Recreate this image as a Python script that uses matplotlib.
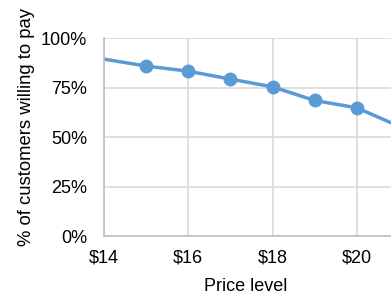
import matplotlib.pyplot as plt
import numpy as np

plt.rcParams['font.family'] = ['Liberation Sans', 'DejaVu Sans']

# price points and share of customers willing to pay
prices = [14, 15, 16, 17, 18, 19, 20, 21, 22]
share = [0.894, 0.859, 0.833, 0.793, 0.754, 0.685, 0.648, 0.555, 0.47]
xticks = [14, 16, 18, 20]
yticks = [0, 0.25, 0.5, 0.75, 1.0]

fig = plt.figure(figsize=(3.91, 2.98), dpi=100)
# plot area runs past the right edge, like the cropped original
ax = fig.add_axes([0.266, 0.208, 0.862, 0.664])

ax.plot(prices, share, color='#5b9bd5', lw=2.5, marker='o', ms=9,
        markevery=list(range(1, len(prices))), clip_on=True)

ax.set_xlim(14, 22)
ax.set_ylim(0, 1)
ax.set_xticks(xticks)
ax.set_xticklabels(['$%d' % p for p in xticks])
ax.set_xticks([22], minor=True)
ax.set_yticks(yticks)
ax.set_yticklabels(['%d%%' % (v * 100) for v in yticks])
ax.grid(True, which='both', color='#d9d9d9', lw=1.2)
ax.set_axisbelow(True)
for s in ['top', 'right']:
    ax.spines[s].set_visible(False)
for s in ['left', 'bottom']:
    ax.spines[s].set_color('#bfbfbf')
    ax.spines[s].set_linewidth(1.2)
ax.tick_params(which='both', length=0, labelsize=13, colors='#000000')
ax.tick_params(axis='x', pad=10)
ax.tick_params(axis='y', pad=12)

fig.text(0.067, 0.575, '% of customers willing to pay', fontsize=13.3,
         rotation=90, ha='center', va='center')
fig.text(0.628, 0.04, 'Price level', fontsize=13, ha='center', va='center')

fig.savefig('out.png', dpi=100)
